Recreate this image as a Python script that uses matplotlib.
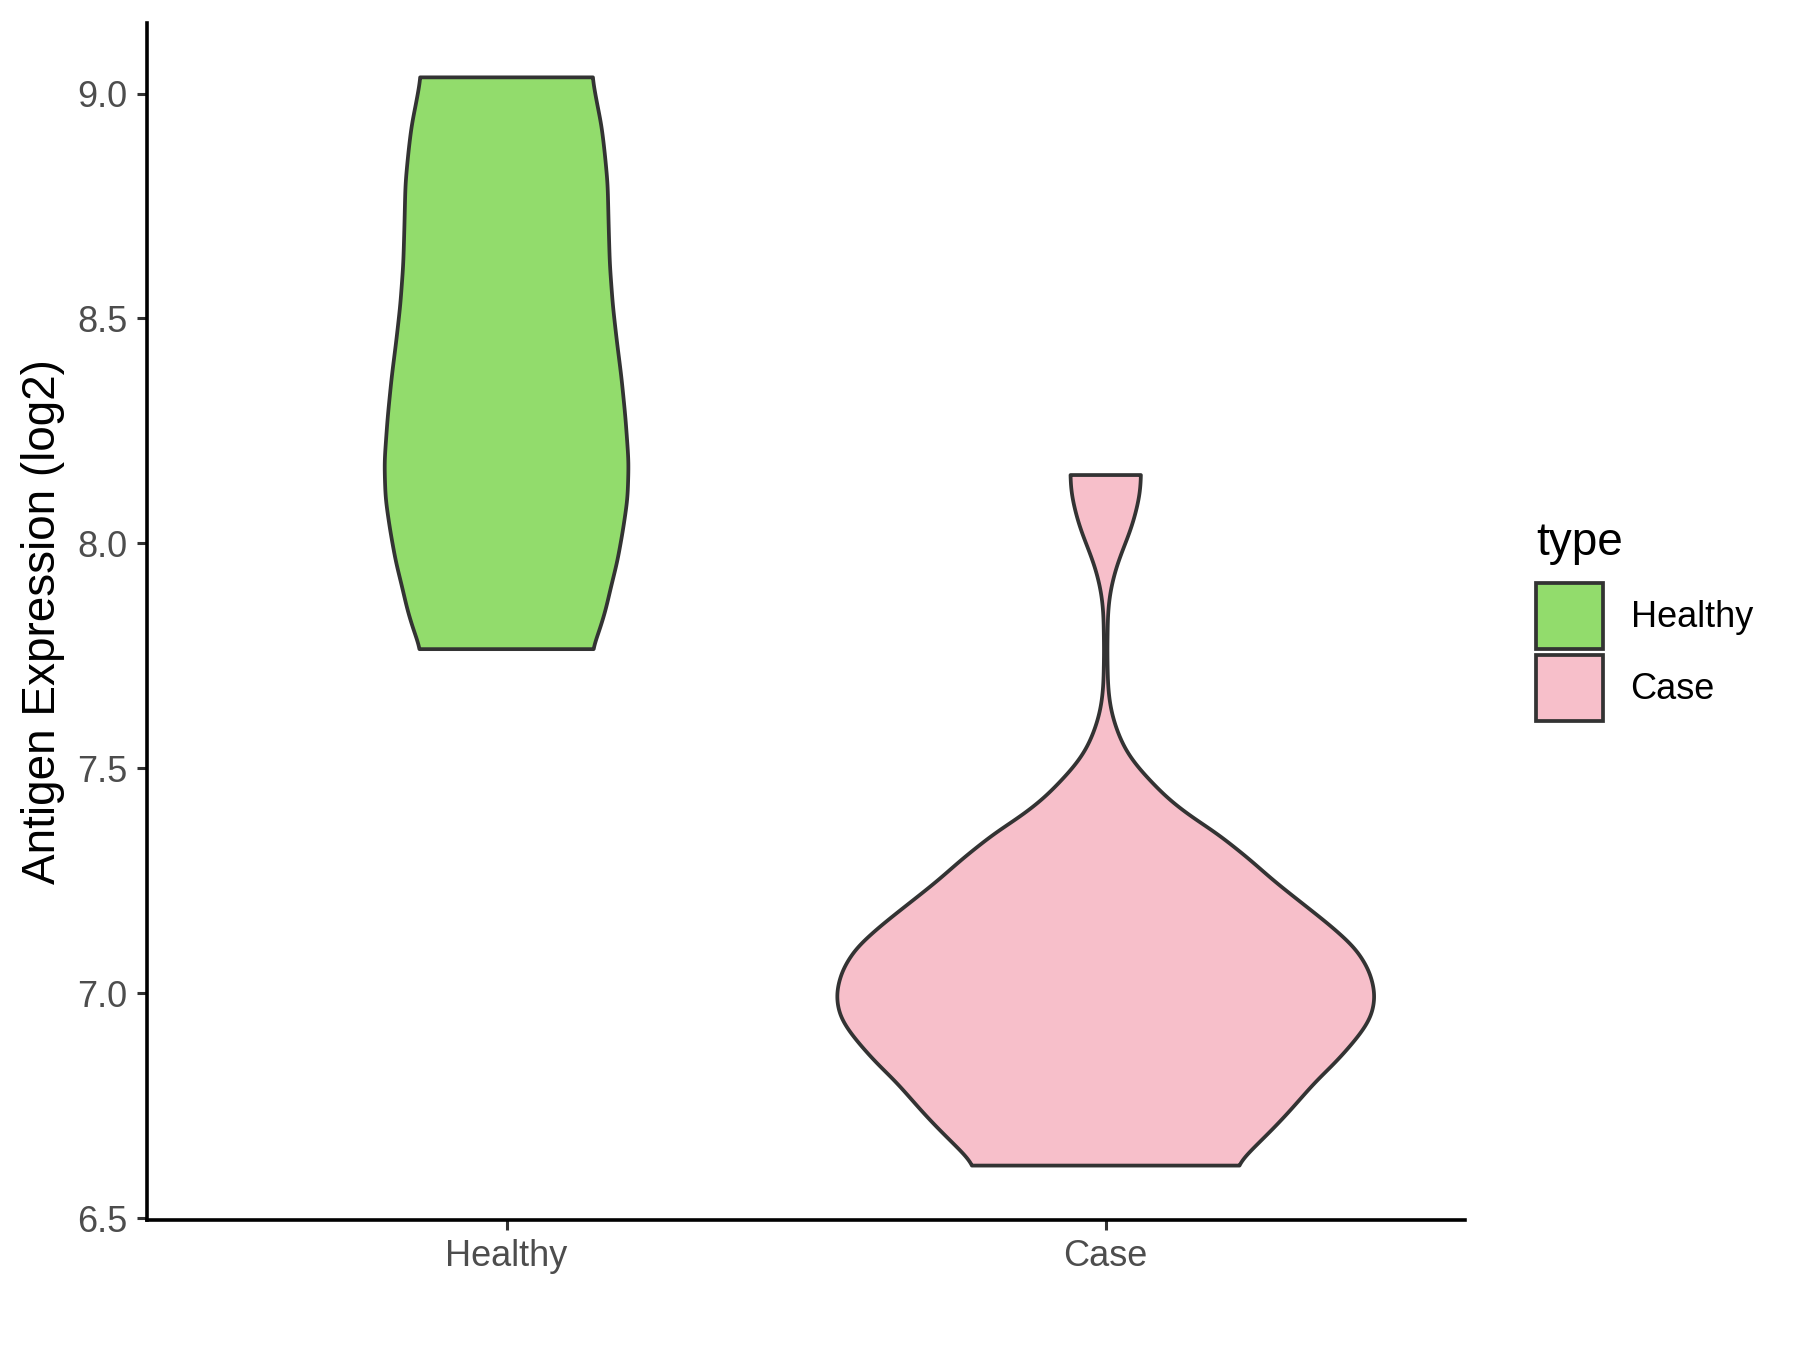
import numpy as np
import matplotlib
matplotlib.use("Agg")
import matplotlib.pyplot as plt
from matplotlib.patches import Patch

plt.rcParams['font.family'] = ['Liberation Sans', 'DejaVu Sans']

categories = ["Healthy", "Case"]
colors = ["#92DC6C", "#F7BFCA"]

# violin outlines: expression level and relative density (Case peak = 1)
healthy_y = [7.765, 7.80, 7.85, 7.90, 7.96, 8.03, 8.10, 8.18, 8.28, 8.37, 8.45,
             8.53, 8.62, 8.70, 8.80, 8.87, 8.93, 8.98, 9.036]
healthy_dens = [0.318, 0.341, 0.367, 0.386, 0.411, 0.432, 0.449, 0.453, 0.441, 0.426, 0.409,
                0.394, 0.383, 0.379, 0.375, 0.364, 0.352, 0.335, 0.318]

case_y = [6.617, 6.66, 6.70, 6.735, 6.77, 6.81, 6.84, 6.88, 6.91, 6.94, 6.96, 7.00,
          7.05, 7.10, 7.15, 7.20, 7.25, 7.30, 7.33, 7.357, 7.39, 7.431, 7.47, 7.506,
          7.54, 7.58, 7.62, 7.654, 7.69, 7.728, 7.76, 7.80, 7.84, 7.876, 7.91, 7.95,
          7.99, 8.024, 8.06, 8.098, 8.12, 8.152]
case_dens = [0.483, 0.555, 0.623, 0.678, 0.729, 0.788, 0.843, 0.903, 0.945, 0.979, 0.992, 1.0,
             0.979, 0.928, 0.835, 0.729, 0.623, 0.530, 0.466, 0.411, 0.322, 0.233, 0.169, 0.114,
             0.074, 0.044, 0.023, 0.013, 0.008, 0.007, 0.006, 0.007, 0.008, 0.013, 0.023, 0.041,
             0.066, 0.089, 0.108, 0.123, 0.129, 0.131]

profiles = [(healthy_y, healthy_dens), (case_y, case_dens)]


def smooth_outline(ys, ds, n=600, sigma=0.02):
    yy = np.linspace(ys[0], ys[-1], n)
    dd = np.interp(yy, ys, ds)
    step = yy[1] - yy[0]
    k = int(3 * sigma / step)
    kern = np.exp(-0.5 * (np.arange(-k, k + 1) * step / sigma) ** 2)
    kern /= kern.sum()
    padded = np.pad(dd, k, mode="edge")
    return yy, np.convolve(padded, kern, mode="valid")


fig = plt.figure(figsize=(18, 13.5), dpi=100)
ax = fig.add_axes([0.0817, 0.0963, 0.7323, 0.8867])

for i, (ys, ds) in enumerate(profiles):
    pos = i + 1
    yy, dd = smooth_outline(ys, ds)
    half = 0.45 * dd
    px = np.concatenate([pos - half, (pos + half)[::-1]])
    py = np.concatenate([yy, yy[::-1]])
    ax.fill(px, py, facecolor=colors[i], edgecolor="#333333", linewidth=2.7,
            joinstyle="round", zorder=2)

lo = min(case_y[0], healthy_y[0])
hi = max(case_y[-1], healthy_y[-1])
rng = hi - lo
ax.set_ylim(lo - 0.05 * rng, hi + 0.05 * rng)
ax.set_xlim(0.4, 2.6)
ax.set_xticks([1, 2])
ax.set_xticklabels(categories)
ax.set_yticks([6.5, 7.0, 7.5, 8.0, 8.5, 9.0])
ax.set_yticklabels(["6.5", "7.0", "7.5", "8.0", "8.5", "9.0"])

for side in ["top", "right"]:
    ax.spines[side].set_visible(False)
for side in ["left", "bottom"]:
    ax.spines[side].set_linewidth(2.6)
    ax.spines[side].set_color("black")

ax.tick_params(axis="both", length=7, width=2.2, color="#333333",
               labelsize=26, labelcolor="#4D4D4D", pad=7)

ax.set_ylabel("Antigen Expression (log2)", fontsize=33, color="black")
ax.yaxis.set_label_coords(-0.062, 0.5)

handles = [Patch(facecolor=colors[i], edgecolor="#333333", linewidth=2.7, label=categories[i])
           for i in range(2)]
leg = ax.legend(handles=handles, loc="upper left",
                bbox_to_anchor=(0.8535, 0.5685), bbox_transform=fig.transFigure,
                frameon=False, fontsize=26,
                handlelength=1.86, handleheight=2.44, handletextpad=0.75,
                labelspacing=0.17, borderpad=0, borderaxespad=0)
fig.text(0.8535, 0.589, "type", fontsize=33, color="black", va="baseline", ha="left")

fig.savefig("out.png", dpi=100, facecolor="white")
